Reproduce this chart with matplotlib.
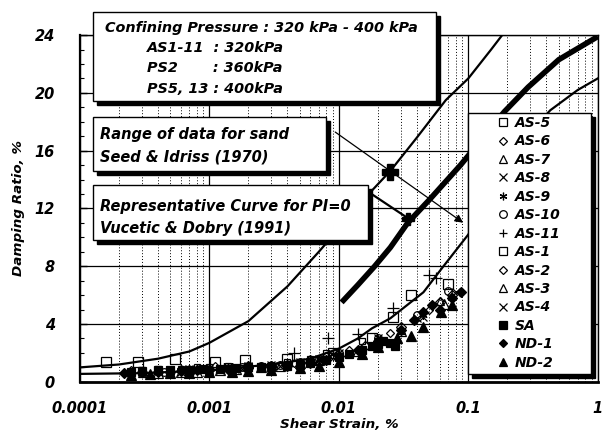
import matplotlib
matplotlib.use("Agg")
import matplotlib.pyplot as plt
from matplotlib.patches import Rectangle
from matplotlib.ticker import LogLocator, FixedLocator, NullFormatter

plt.rcParams['font.family'] = ['DejaVu Sans']
plt.rcParams['font.weight'] = 'bold'
plt.rcParams['font.style'] = 'oblique'
plt.rcParams['axes.labelweight'] = 'bold'

# Seed & Idriss (1970) range for sand, and Vucetic & Dobry (1991) PI=0
upper_x = [0.0001, 0.0002, 0.0004, 0.0007, 0.001, 0.002, 0.004, 0.007, 0.01,
           0.017, 0.025, 0.04, 0.067, 0.1, 0.15, 0.19]
upper_y = [1.0, 1.2, 1.6, 2.1, 2.7, 4.2, 6.6, 9.0, 10.6, 13.0, 14.6, 16.9,
           19.5, 21.0, 23.0, 24.2]
lower_x = [0.0001, 0.0003, 0.001, 0.003, 0.006, 0.01, 0.014, 0.018, 0.025,
           0.045, 0.063, 0.1, 0.2, 0.3, 0.43, 0.7, 1.0]
lower_y = [0.55, 0.6, 0.8, 1.2, 1.6, 2.3, 3.0, 3.7, 4.4, 6.2, 7.9, 10.2,
           14.8, 17.3, 18.8, 20.2, 21.0]
vd_x = [0.0105, 0.014, 0.0187, 0.025, 0.034, 0.05, 0.087, 0.13, 0.19, 0.29,
        0.5, 1.0]
vd_y = [5.5, 6.7, 7.95, 9.3, 11.0, 12.6, 15.0, 16.9, 18.7, 20.4, 22.3, 23.9]

# test data (strain %, damping %)
as5_x = [0.0003, 0.0004, 0.0006, 0.0008, 0.001, 0.0014, 0.002, 0.003, 0.004,
         0.006, 0.008, 0.015]
as5_y = [0.8, 0.9, 0.9, 1.0, 1.0, 1.1, 1.1, 1.2, 1.4, 1.6, 2.0, 2.8]
as6_x = [0.00025, 0.0004, 0.0006, 0.0008, 0.0011, 0.0015, 0.002, 0.003,
         0.0045, 0.006, 0.009, 0.012, 0.025, 0.05]
as6_y = [0.8, 0.7, 0.9, 0.9, 1.1, 1.0, 1.2, 1.2, 1.3, 1.6, 1.8, 2.2, 3.4, 5.0]
as7_x = [0.0003, 0.0005, 0.0007, 0.001, 0.0015, 0.002, 0.003, 0.005, 0.007,
         0.015, 0.03, 0.06]
as7_y = [0.6, 0.7, 0.8, 0.8, 0.9, 1.0, 1.1, 1.3, 1.5, 2.3, 3.6, 5.6]
as8_x = [0.0005, 0.0007, 0.001, 0.0014, 0.002, 0.003, 0.005, 0.007, 0.01,
         0.02, 0.04]
as8_y = [0.8, 0.9, 0.9, 1.0, 1.1, 1.2, 1.4, 1.6, 2.0, 3.0, 4.4]
as9_x = [0.0004, 0.0006, 0.0009, 0.0013, 0.002, 0.003, 0.004, 0.006, 0.009,
         0.02, 0.045]
as9_y = [0.7, 0.8, 0.9, 1.0, 1.0, 1.2, 1.3, 1.5, 1.9, 2.9, 4.6]
as10_x = [0.0003, 0.00045, 0.0006, 0.0009, 0.0012, 0.0018, 0.0025, 0.0035,
          0.005, 0.007, 0.01, 0.02, 0.04, 0.07]
as10_y = [0.6, 0.7, 0.8, 0.9, 0.9, 1.0, 1.1, 1.2, 1.4, 1.6, 2.0, 3.0, 4.6,
          6.3]
as11_x = [0.0045, 0.0083, 0.014, 0.026, 0.05, 0.056]
as11_y = [2.0, 3.0, 3.3, 5.1, 7.4, 7.2]
as1_x = [0.00016, 0.00028, 0.00054, 0.0011, 0.0019, 0.004, 0.009, 0.018,
         0.026, 0.036, 0.07]
as1_y = [1.4, 1.4, 1.6, 1.4, 1.5, 1.6, 2.0, 3.0, 4.5, 6.0, 6.8]
as2_x = [0.0005, 0.0007, 0.001, 0.0014, 0.002, 0.003, 0.004, 0.006, 0.008,
         0.016, 0.03, 0.06, 0.075]
as2_y = [0.7, 0.8, 0.8, 0.9, 1.0, 1.1, 1.2, 1.4, 1.7, 2.5, 3.8, 5.5, 6.0]
as3_x = [0.0004, 0.0006, 0.0008, 0.0012, 0.0016, 0.0025, 0.0035, 0.005,
         0.007, 0.014, 0.03, 0.065]
as3_y = [0.6, 0.7, 0.7, 0.8, 0.9, 1.0, 1.1, 1.3, 1.5, 2.1, 3.5, 5.4]
as4_x = [0.0006, 0.0009, 0.0012, 0.0018, 0.0025, 0.0035, 0.005, 0.007, 0.01,
         0.02, 0.045, 0.08]
as4_y = [0.7, 0.8, 0.8, 0.9, 1.0, 1.1, 1.3, 1.5, 1.8, 2.7, 4.5, 6.2]
sa_x = [0.00025, 0.0003, 0.0004, 0.0005, 0.0007, 0.0009, 0.0012, 0.0016,
        0.002, 0.0025, 0.003, 0.004, 0.005, 0.006, 0.008, 0.01, 0.012, 0.015,
        0.018, 0.02, 0.022, 0.025, 0.027]
sa_y = [0.7, 0.75, 0.8, 0.8, 0.85, 0.9, 0.9, 0.95, 1.0, 1.0, 1.05, 1.1, 1.2,
        1.3, 1.5, 1.7, 1.9, 2.2, 2.5, 2.6, 2.8, 2.7, 2.5]
nd1_x = [0.00022, 0.0003, 0.0004, 0.0006, 0.0008, 0.001, 0.0014, 0.002,
         0.003, 0.004, 0.006, 0.008, 0.01, 0.014, 0.02, 0.03, 0.038, 0.045,
         0.052, 0.06, 0.075, 0.088]
nd1_y = [0.6, 0.65, 0.7, 0.75, 0.8, 0.85, 0.9, 0.95, 1.0, 1.1, 1.3, 1.5, 1.8,
         2.2, 2.8, 3.6, 4.3, 4.8, 5.3, 5.0, 5.8, 6.2]
nd2_x = [0.00025, 0.00035, 0.0005, 0.0007, 0.001, 0.0015, 0.002, 0.003,
         0.005, 0.007, 0.01, 0.015, 0.02, 0.028, 0.036, 0.045, 0.061, 0.075]
nd2_y = [0.5, 0.55, 0.6, 0.6, 0.65, 0.7, 0.75, 0.8, 0.95, 1.1, 1.4, 1.9, 2.4,
         3.0, 3.2, 3.8, 4.8, 5.3]

# pointer lines from the notes to the curves
range_arrow = [(0.009, 17.4), (0.095, 10.9)]
range_mark = (0.025, 14.5)
vd_arrow = [(0.0172, 13.1), (0.0345, 11.3)]

x_ticks = [0.0001, 0.001, 0.01, 0.1, 1]
x_ticklabels = ['0.0001', '0.001', '0.01', '0.1', '1']
y_ticks = [0, 4, 8, 12, 16, 20, 24]

series = [
    ('AS-5', as5_x, as5_y, 's', 'none', 5),
    ('AS-6', as6_x, as6_y, 'D', 'none', 4.5),
    ('AS-7', as7_x, as7_y, '^', 'none', 6),
    ('AS-8', as8_x, as8_y, 'x', 'none', 5.5),
    ('AS-9', as9_x, as9_y, (6, 2, 0), 'none', 6),
    ('AS-10', as10_x, as10_y, 'o', 'none', 5.5),
    ('AS-11', as11_x, as11_y, '+', 'none', 8),
    ('AS-1', as1_x, as1_y, 's', 'none', 7.5),
    ('AS-2', as2_x, as2_y, 'D', 'none', 5.5),
    ('AS-3', as3_x, as3_y, '^', 'none', 6.5),
    ('AS-4', as4_x, as4_y, 'x', 'none', 6),
    ('SA', sa_x, sa_y, 's', 'black', 6),
    ('ND-1', nd1_x, nd1_y, 'D', 'black', 5),
    ('ND-2', nd2_x, nd2_y, '^', 'black', 7),
]

fig = plt.figure(figsize=(6.1, 4.44), dpi=100)
ax = fig.add_axes([0.131, 0.140, 0.849, 0.781])

ax.set_xscale('log')
ax.set_xlim(0.0001, 1)
ax.set_ylim(0, 24)

ax.xaxis.set_major_locator(FixedLocator(x_ticks))
ax.xaxis.set_minor_locator(LogLocator(base=10, subs=range(2, 10)))
ax.xaxis.set_minor_formatter(NullFormatter())
ax.set_xticklabels(x_ticklabels)
ax.set_yticks(y_ticks)
ax.set_yticks(range(0, 25), minor=True)

ax.grid(True, which='major', axis='both', color='black', lw=0.9)
ax.grid(True, which='minor', axis='x', color='black', lw=0.7, ls=(0, (1, 2)))
ax.set_axisbelow(True)

ax.tick_params(axis='x', which='both', length=0, pad=14, labelsize=10.5)
ax.tick_params(axis='y', which='major', direction='in', length=5, pad=18,
               labelsize=10.5, width=1)
ax.tick_params(axis='y', which='minor', direction='in', length=3, width=0.8)
for s in ax.spines.values():
    s.set_linewidth(1.0)
ax.spines['left'].set_linewidth(1.6)
ax.spines['bottom'].set_linewidth(2.0)

for lab, xs, ys, mk, fc, ms in series:
    ax.plot(xs, ys, ls='none', marker=mk, mfc=fc, mec='black', mew=0.9,
            ms=ms, color='black', label=lab, zorder=3)

ax.plot(upper_x, upper_y, color='black', lw=1.6, zorder=4)
ax.plot(lower_x, lower_y, color='black', lw=1.6, zorder=4)
ax.plot(vd_x, vd_y, color='black', lw=4, solid_capstyle='butt', zorder=4)

ax.annotate('', xy=range_arrow[1], xytext=range_arrow[0],
            arrowprops=dict(arrowstyle='-|>', color='black', lw=0.9,
                            mutation_scale=12), zorder=5)
ax.annotate('', xy=vd_arrow[1], xytext=vd_arrow[0],
            arrowprops=dict(arrowstyle='-', color='black', lw=1.6), zorder=5)
ax.plot(*range_mark, marker='P', ms=11, color='black', zorder=6)
ax.plot(*vd_arrow[1], marker='P', ms=9, color='black', zorder=6)

ax.set_xlabel('Shear Strain, %', fontsize=9.7, fontweight='bold',
              fontstyle='oblique', labelpad=1)
ax.set_ylabel('Damping Ratio, %', fontsize=9.7, fontweight='bold',
              fontstyle='oblique', labelpad=7)


def note_box(x0, y0, x1, y1):
    # white box with a black drop shadow, figure pixel coords (top-left origin)
    W, H = 610.0, 444.0
    sh = Rectangle((x0 / W + 4 / W, 1 - y1 / H - 4 / H), (x1 - x0) / W,
                   (y1 - y0) / H, transform=fig.transFigure, fc='black',
                   ec='black', zorder=8)
    bx = Rectangle((x0 / W, 1 - y1 / H), (x1 - x0) / W, (y1 - y0) / H,
                   transform=fig.transFigure, fc='white', ec='black', lw=1.0,
                   zorder=9)
    fig.patches.extend([sh, bx])


def note_text(x, y, s, size=10.5):
    fig.text(x / 610.0, 1 - y / 444.0, s, fontsize=size, va='center',
             ha='left', fontweight='bold', fontstyle='oblique', zorder=10)


note_box(93, 12, 436, 101)
note_text(105, 28, 'Confining Pressure : 320 kPa - 400 kPa', 10.4)
note_text(147, 48, 'AS1-11  : 320kPa', 10.4)
note_text(147, 68, 'PS2       : 360kPa', 10.4)
note_text(147, 89, 'PS5, 13 : 400kPa', 10.4)

note_box(93, 117, 326, 171)
note_text(100, 135, 'Range of data for sand')
note_text(100, 157, 'Seed & Idriss (1970)')

note_box(93, 185, 368, 240)
note_text(100, 206, 'Representative Curve for PI=0')
note_text(100, 228, 'Vucetic & Dobry (1991)')

note_box(468, 113, 591, 374)
leg = fig.legend(loc='upper left', bbox_to_anchor=(497 / 610.0, 1 - 116 / 444.0),
                 frameon=False, fontsize=10, borderpad=0, borderaxespad=0,
                 labelspacing=0.32, handlelength=0.8, handletextpad=0.5)
leg.set_zorder(11)
for h in leg.legend_handles:
    h.set_markersize(4 if h.get_marker() == 'D' else 5.5)

fig.savefig('out.png', dpi=100)
